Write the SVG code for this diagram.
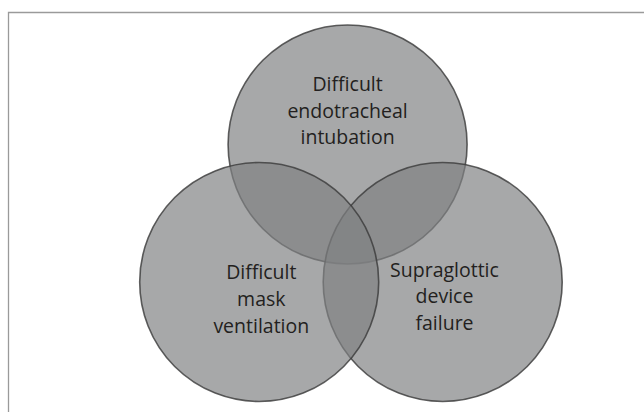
<svg xmlns="http://www.w3.org/2000/svg" width="644" height="412" viewBox="0 0 644 412">
<style>
.c{fill:#808183;fill-opacity:0.69;stroke:#3a3a3a;stroke-opacity:0.8;stroke-width:1.6}
.t{font-family:"Open Sans","Noto Sans",sans-serif;font-size:19.5px;fill:#231f20;text-anchor:middle}
</style>
<rect x="0" y="0" width="644" height="412" fill="#ffffff"/>
<path d="M8.5 420 V12.5 H650" fill="none" stroke="#9a9a9a" stroke-width="1.3"/>
<g id="intubation">
<circle class="c" cx="347.6" cy="144.5" r="119.5"/>
</g>
<g id="supraglottic">
<circle class="c" cx="442.7" cy="282" r="119.5"/>
</g>
<g id="mask">
<circle class="c" cx="259.2" cy="282" r="119.5"/>
</g>
<g id="connectors"></g>
<g id="labels">
<text class="t" x="347.6" y="91">Difficult</text>
<text class="t" x="347.6" y="117.5">endotracheal</text>
<text class="t" x="347.6" y="144">intubation</text>
<text class="t" x="261.3" y="279.3">Difficult</text>
<text class="t" x="261.3" y="306">mask</text>
<text class="t" x="261.3" y="332.7">ventilation</text>
<text class="t" x="444.5" y="276.7">Supraglottic</text>
<text class="t" x="444.5" y="303.3">device</text>
<text class="t" x="444.5" y="329.5">failure</text>
</g>
</svg>
